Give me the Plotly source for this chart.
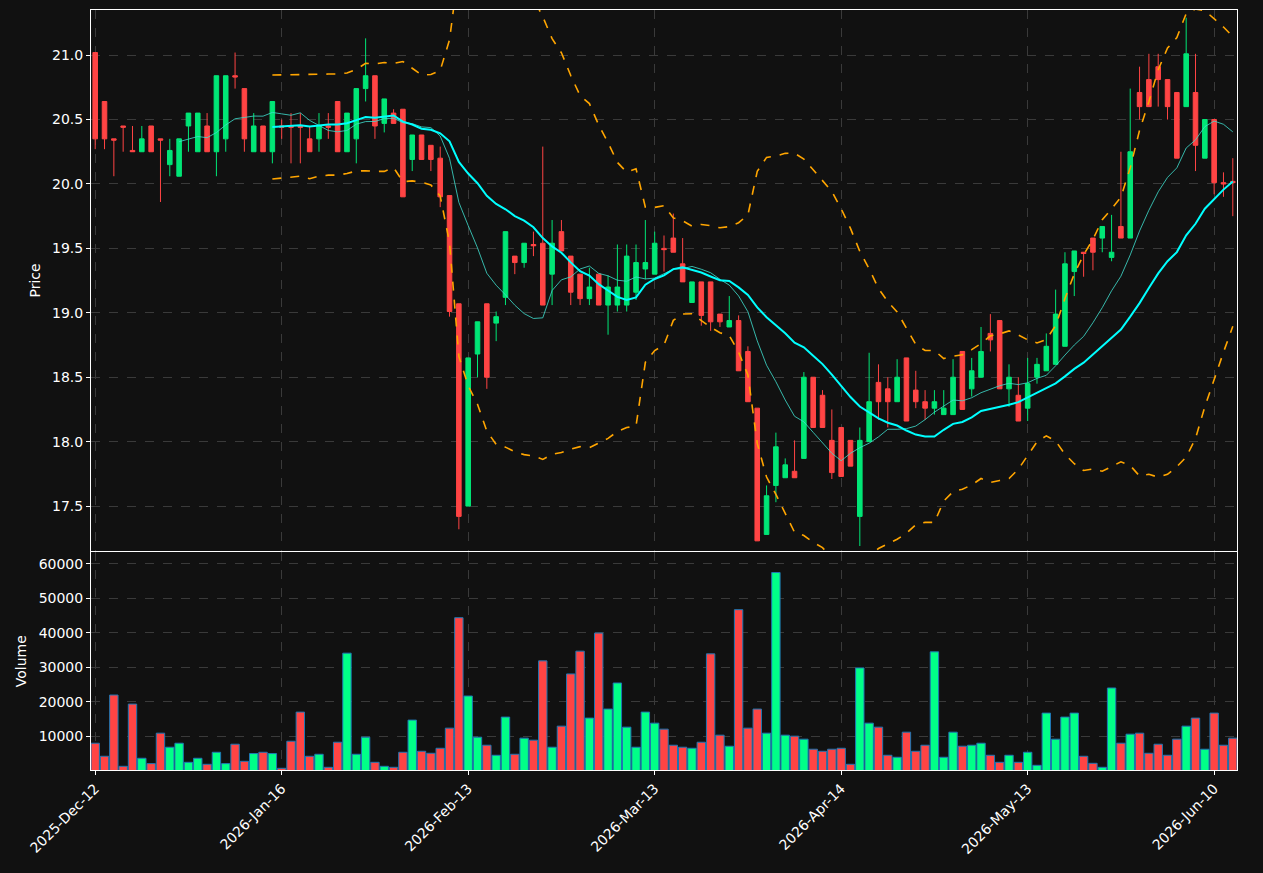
import plotly.graph_objects as go
from plotly.subplots import make_subplots
import pandas as pd

# daily OHLC + volume
opens = [21.02, 20.64, 20.35, 20.45, 20.26, 20.25, 20.45, 20.35, 20.15, 20.06,
         20.45, 20.25, 20.45, 20.25, 20.35, 20.84, 20.74, 20.25, 20.45, 20.25,
         20.45, 20.45, 20.45, 20.35, 20.35, 20.45, 20.64, 20.25, 20.35, 20.74,
         20.84, 20.47, 20.55, 20.58, 20.19, 20.38, 20.30, 20.20, 19.91, 19.07,
         17.50, 18.68, 19.07, 18.92, 19.12, 19.44, 19.39, 19.53, 19.54, 19.30,
         19.63, 19.44, 19.30, 19.11, 19.30, 19.06, 19.06, 19.06, 19.16, 19.34,
         19.30, 19.50, 19.58, 19.38, 19.08, 19.24, 19.24, 18.99, 18.89, 18.94,
         18.70, 18.26, 17.28, 17.66, 17.72, 17.77, 17.87, 18.50, 18.36, 18.01,
         18.11, 18.01, 17.42, 18.00, 18.46, 18.41, 18.31, 18.65, 18.40, 18.31,
         18.26, 18.21, 18.21, 18.70, 18.41, 18.50, 18.84, 18.94, 18.41, 18.36,
         18.26, 18.50, 18.55, 18.60, 18.74, 19.32, 19.47, 19.58, 19.58, 19.43,
         19.67, 19.58, 20.71, 20.81, 20.91, 20.81, 20.71, 20.60, 20.71, 20.20,
         20.50, 20.01, 20.02]
closes = [20.35, 20.35, 20.34, 20.44, 20.25, 20.35, 20.25, 20.34, 20.26, 20.35,
          20.55, 20.55, 20.25, 20.84, 20.84, 20.83, 20.35, 20.45, 20.25, 20.64,
          20.44, 20.44, 20.44, 20.25, 20.45, 20.44, 20.25, 20.55, 20.74, 20.84,
          20.45, 20.66, 20.47, 19.90, 20.38, 20.19, 20.19, 19.90, 19.01, 17.42,
          18.65, 18.93, 18.50, 18.97, 19.63, 19.39, 19.54, 19.52, 19.06, 19.54,
          19.48, 19.16, 19.11, 19.20, 19.06, 19.20, 19.20, 19.44, 19.39, 19.39,
          19.54, 19.49, 19.47, 19.24, 19.24, 18.98, 18.93, 18.93, 18.94, 18.55,
          18.31, 17.23, 17.58, 17.96, 17.82, 17.72, 18.50, 18.11, 18.11, 17.76,
          17.73, 17.81, 18.01, 18.31, 18.31, 18.31, 18.50, 18.16, 18.31, 18.26,
          18.31, 18.26, 18.50, 18.25, 18.55, 18.70, 18.79, 18.41, 18.50, 18.16,
          18.45, 18.60, 18.74, 18.99, 19.38, 19.48, 19.46, 19.47, 19.67, 19.47,
          19.58, 20.25, 20.60, 20.60, 20.81, 20.60, 20.20, 21.01, 20.30, 20.50,
          20.01, 20.00, 20.01]
highs = [21.02, 20.64, 20.35, 20.45, 20.45, 20.45, 20.45, 20.35, 20.35, 20.35,
         20.55, 20.55, 20.55, 20.84, 20.84, 21.02, 20.74, 20.55, 20.45, 20.64,
         20.50, 20.55, 20.55, 20.45, 20.55, 20.55, 20.64, 20.55, 20.74, 21.13,
         20.84, 20.66, 20.58, 20.58, 20.38, 20.38, 20.30, 20.29, 19.91, 19.07,
         18.65, 18.93, 19.07, 19.01, 19.63, 19.44, 19.54, 19.63, 20.29, 19.72,
         19.72, 19.44, 19.30, 19.35, 19.30, 19.29, 19.53, 19.53, 19.53, 19.72,
         19.63, 19.60, 19.77, 19.58, 19.24, 19.24, 19.24, 18.99, 19.13, 18.98,
         18.74, 18.26, 17.66, 18.07, 17.87, 18.01, 18.54, 18.50, 18.40, 18.25,
         18.11, 18.01, 18.11, 18.69, 18.60, 18.50, 18.64, 18.65, 18.55, 18.40,
         18.40, 18.40, 18.64, 18.70, 18.65, 18.89, 18.99, 18.94, 18.60, 18.50,
         18.65, 18.65, 18.84, 19.18, 19.47, 19.48, 19.47, 19.58, 19.67, 19.76,
         20.25, 20.74, 20.91, 21.01, 21.01, 20.81, 20.71, 21.29, 21.01, 20.50,
         20.50, 20.09, 20.20]
lows = [20.27, 20.27, 20.06, 20.25, 20.25, 20.25, 20.25, 19.86, 20.06, 20.06,
        20.25, 20.25, 20.25, 20.06, 20.25, 20.74, 20.25, 20.25, 20.25, 20.16,
        20.35, 20.16, 20.16, 20.25, 20.25, 20.35, 20.25, 20.25, 20.16, 20.64,
        20.35, 20.40, 20.47, 19.90, 20.10, 20.19, 20.10, 19.82, 18.97, 17.32,
        17.50, 18.50, 18.41, 18.78, 19.06, 19.30, 19.35, 19.44, 19.06, 19.06,
        19.48, 19.06, 19.06, 19.06, 19.06, 18.83, 19.01, 19.01, 19.10, 19.26,
        19.30, 19.32, 19.47, 19.24, 19.08, 18.90, 18.86, 18.89, 18.89, 18.55,
        18.31, 17.23, 17.28, 17.53, 17.72, 17.72, 17.87, 18.11, 18.11, 17.71,
        17.73, 17.81, 17.19, 18.00, 18.17, 18.11, 18.31, 18.16, 18.26, 18.17,
        18.21, 18.21, 18.21, 18.25, 18.35, 18.50, 18.70, 18.41, 18.27, 18.16,
        18.16, 18.45, 18.55, 18.60, 18.74, 19.13, 19.28, 19.33, 19.47, 19.40,
        19.58, 19.58, 20.50, 20.60, 20.60, 20.50, 20.20, 20.60, 20.10, 20.20,
        19.92, 19.90, 19.75]
volumes = [7960, 4180, 21930, 1270, 19300, 3600, 2050, 10870, 6800, 7960,
           2430, 3600, 1850, 5340, 2050, 7670, 2720, 4960, 5340, 4960,
           690, 8540, 16980, 4180, 4760, 980, 8250, 34060, 4760, 9710,
           2430, 1270, 980, 5340, 14660, 5630, 5050, 6500, 12330, 44340,
           21640, 9710, 7380, 4470, 15530, 4760, 9420, 8840, 31830, 6800,
           12910, 28040, 34640, 15240, 39880, 17860, 25420, 12620, 6800, 16980,
           13780, 12040, 7380, 6800, 6500, 8250, 33860, 10290, 7090, 46670,
           12330, 17860, 10870, 57430, 10290, 10000, 9130, 6220, 5630, 6220,
           6500, 1850, 29790, 13780, 12620, 4470, 3890, 11160, 5630, 7380,
           34440, 3890, 11160, 7090, 7380, 7960, 4470, 2430, 4470, 2430,
           5340, 1560, 16690, 9130, 15530, 16690, 4180, 2140, 980, 23970,
           7960, 10580, 10870, 5050, 7670, 4470, 9130, 12910, 15240, 6220,
           16690, 7380, 9420]
tick_pos = [0, 20, 40, 60, 80, 100, 120]
tick_labels = ["2025-Dec-12", "2026-Jan-16", "2026-Feb-13", "2026-Mar-13",
               "2026-Apr-14", "2026-May-13", "2026-Jun-10"]

UP, DOWN = "#00e676", "#ff4444"
x = list(range(len(closes)))
close = pd.Series(closes)
ma10 = close.rolling(10).mean()
ma20 = close.rolling(20).mean()
sd20 = close.rolling(20).std()
upper, lower = ma20 + 2 * sd20, ma20 - 2 * sd20

fig = make_subplots(rows=2, cols=1, shared_xaxes=True, vertical_spacing=0.002,
                    row_heights=[0.713, 0.287])

fig.add_trace(go.Candlestick(
    x=x, open=opens, high=highs, low=lows, close=closes,
    increasing=dict(line=dict(color=UP, width=1), fillcolor=UP),
    decreasing=dict(line=dict(color=DOWN, width=1), fillcolor=DOWN),
    whiskerwidth=0, showlegend=False), row=1, col=1)
for band in (upper, lower):
    fig.add_trace(go.Scatter(x=x, y=band, mode="lines", showlegend=False,
                             line=dict(color="#ffa500", width=1.6, dash="dash")), row=1, col=1)
fig.add_trace(go.Scatter(x=x, y=ma10, mode="lines", showlegend=False,
                         line=dict(color="rgba(64,224,208,0.8)", width=1)), row=1, col=1)
fig.add_trace(go.Scatter(x=x, y=ma20, mode="lines", showlegend=False,
                         line=dict(color="#00ffff", width=2)), row=1, col=1)

vol_colors = ["#00ff88" if c >= o else DOWN for o, c in zip(opens, closes)]
fig.add_trace(go.Bar(x=x, y=volumes, marker=dict(color=vol_colors, line=dict(color="#1f77b4", width=1)),
                     width=0.9, showlegend=False), row=2, col=1)

grid = dict(showgrid=True, gridcolor="#3a3a3a", griddash="dash", gridwidth=1,
            showline=True, linecolor="white", linewidth=1, mirror=True,
            ticks="outside", tickcolor="white", ticklen=4, zeroline=False)
fig.update_xaxes(**grid, range=[-0.45, 122.45], tickvals=tick_pos, ticktext=tick_labels,
                 rangeslider_visible=False)
fig.update_xaxes(showticklabels=False, row=1, col=1)
fig.update_xaxes(tickangle=-45, row=2, col=1)
fig.update_yaxes(**grid)
fig.update_yaxes(range=[17.153, 21.35], tickvals=[17.5, 18, 18.5, 19, 19.5, 20, 20.5, 21],
                 tickformat=".1f", title=dict(text="Price", font=dict(size=14), standoff=8),
                 row=1, col=1)
fig.update_yaxes(range=[200, 63290], tickvals=[10000, 20000, 30000, 40000, 50000, 60000],
                 tickformat="d", title=dict(text="Volume", font=dict(size=14), standoff=8),
                 row=2, col=1)

fig.update_layout(
    width=1263, height=873,
    paper_bgcolor="#111111", plot_bgcolor="#111111",
    font=dict(family="DejaVu Sans", size=14, color="white"),
    margin=dict(l=91, r=26, t=10, b=103),
    bargap=0.1,
)

fig.write_html("out.html", config={"displayModeBar": False},
               post_script="document.body.style.margin='0';")
